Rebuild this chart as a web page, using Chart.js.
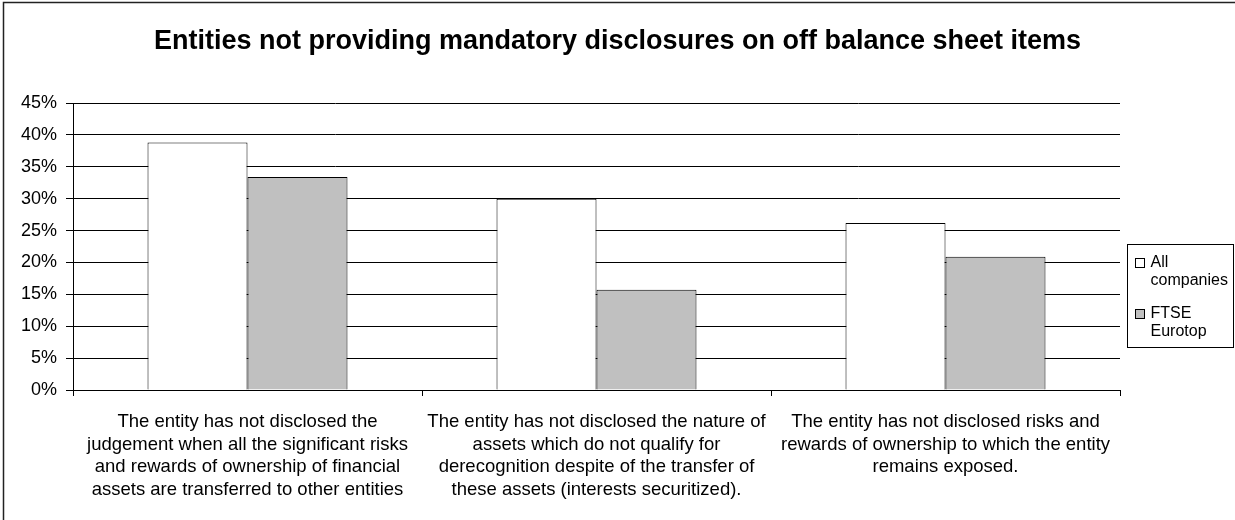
<!DOCTYPE html>
<html>
<head>
<meta charset="utf-8">
<title>Entities not providing mandatory disclosures on off balance sheet items</title>
<script src="https://cdn.jsdelivr.net/npm/chart.js@4.4.1/dist/chart.umd.min.js"></script>
<style>
  html, body { margin: 0; padding: 0; background: #fff; }
  #wrap { position: relative; width: 1235px; height: 520px; }
</style>
</head>
<body>
<div id="wrap"><canvas id="offBalanceChart"></canvas></div>
<script>
'use strict';

/* ── data ── */
const CATEGORIES = [
  ['The entity has not disclosed the',
   'judgement when all the significant risks',
   'and rewards of ownership of financial',
   'assets are transferred to other entities'],
  ['The entity has not disclosed the nature of',
   'assets which do not qualify for',
   'derecognition despite of the transfer of',
   'these assets (interests securitized).'],
  ['The entity has not disclosed risks and',
   'rewards of ownership to which the entity',
   'remains exposed.']
];
const ALL_COMPANIES = [38.8, 30.0, 26.2];
const FTSE_EUROTOP  = [33.4, 15.7, 20.9];
const SERIES_NAMES  = ['All companies', 'FTSE Eurotop'];
const Y_MAX  = 45;
const Y_STEP = 5;

const FONT = "'Liberation Sans', Arial, Helvetica, sans-serif";

/* ── frame round the whole chart ── */
const framePlugin = {
  id: 'frame',
  beforeDraw(chart) {
    const { ctx, width, height } = chart;
    ctx.save();
    ctx.fillStyle = '#fff';
    ctx.fillRect(0, 0, width, height);
    ctx.strokeStyle = '#222';
    ctx.lineWidth = 1.5;
    ctx.strokeRect(3.5, 2.5, width + 10, height + 10);
    ctx.restore();
  }
};

/* ── boxed legend on the right, names wrapped after the first word ── */
const boxLegend = {
  id: 'boxLegend',
  afterDraw(chart) {
    const { ctx, chartArea } = chart;
    const x = chartArea.right + 7.5;
    const y = chartArea.top + 141.5;
    const w = 106, h = 103;
    ctx.save();
    ctx.fillStyle = '#fff';
    ctx.fillRect(x, y, w, h);
    ctx.strokeStyle = '#000';
    ctx.lineWidth = 1;
    ctx.strokeRect(x, y, w, h);
    ctx.font = '16px ' + FONT;
    ctx.textBaseline = 'middle';
    chart.data.datasets.forEach((ds, i) => {
      const top = y + 18 + i * 51;
      const words = ds.label.split(' ');
      const lines = [words[0], words.slice(1).join(' ')];
      ctx.fillStyle = ds.backgroundColor;
      ctx.fillRect(x + 8, top - 4, 9, 9);
      ctx.strokeStyle = '#000';
      ctx.strokeRect(x + 8, top - 4, 9, 9);
      ctx.fillStyle = '#000';
      lines.forEach((t, j) => ctx.fillText(t, x + 23, top + j * 18));
    });
    ctx.restore();
  }
};

new Chart(document.getElementById('offBalanceChart'), {
  type: 'bar',
  data: {
    labels: CATEGORIES,
    datasets: [
      {
        label: SERIES_NAMES[0],
        data: ALL_COMPANIES,
        backgroundColor: '#ffffff',
        borderColor: '#000',
        borderWidth: 1
      },
      {
        label: SERIES_NAMES[1],
        data: FTSE_EUROTOP,
        backgroundColor: '#c0c0c0',
        borderColor: '#000',
        borderWidth: 1
      }
    ]
  },
  options: {
    responsive: true,
    maintainAspectRatio: false,
    animation: false,
    categoryPercentage: 0.573,
    barPercentage: 1,
    layout: { padding: 0 },
    plugins: {
      legend: { display: false },
      tooltip: { enabled: false },
      title: {
        display: true,
        text: 'Entities not providing mandatory disclosures on off balance sheet items',
        color: '#000',
        font: { family: FONT, size: 27, weight: 'bold', lineHeight: 1.2 },
        padding: { top: 25, bottom: 45.6 }
      }
    },
    scales: {
      x: {
        afterFit: (scale) => { scale.height = 130; },
        border: { display: true, color: '#000', width: 1 },
        grid: {
          offset: true,
          drawOnChartArea: false,
          drawTicks: true,
          tickLength: 6,
          color: '#000'
        },
        ticks: {
          color: '#000',
          autoSkip: false,
          maxRotation: 0,
          padding: 14,
          font: { family: FONT, size: 18.5, lineHeight: 1.24 }
        }
      },
      y: {
        min: 0,
        max: Y_MAX,
        afterFit: (scale) => { scale.width = 73; },
        border: { display: true, color: '#000', width: 1 },
        grid: {
          color: '#000',
          lineWidth: 1,
          drawTicks: true,
          tickLength: 7
        },
        ticks: {
          stepSize: Y_STEP,
          color: '#000',
          padding: 9,
          font: { family: FONT, size: 18 },
          callback: (v) => v + '%'
        }
      },
      // empty strip on the right that holds the legend box
      legendGap: {
        type: 'linear',
        position: 'right',
        afterFit: (scale) => { scale.width = 115; },
        border: { display: false },
        grid: { display: false },
        ticks: { display: false }
      }
    }
  },
  plugins: [framePlugin, boxLegend]
});
</script>
</body>
</html>
